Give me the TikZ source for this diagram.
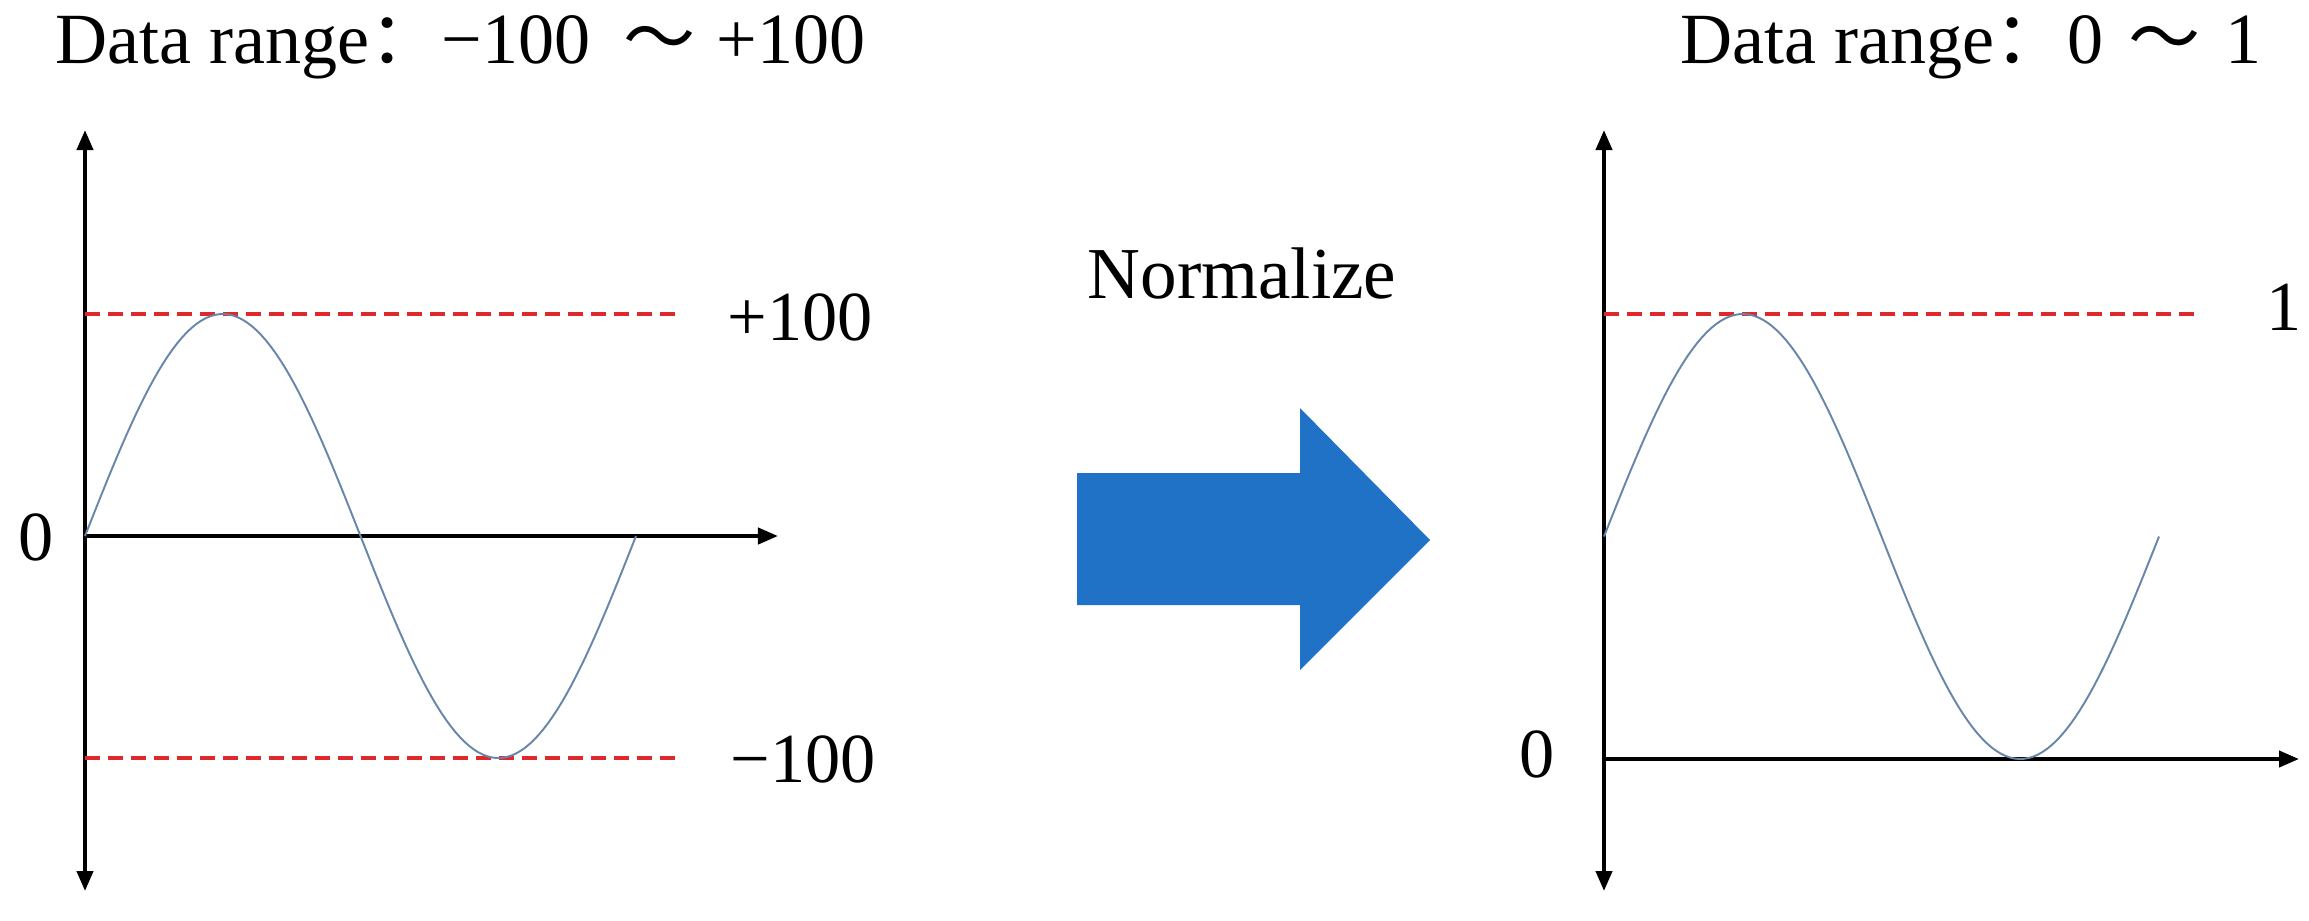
\documentclass[tikz,border=0pt]{standalone}
\usepackage{fontspec}
\setmainfont{Liberation Serif}
\newfontfamily\cjk{Noto Sans CJK SC}
\usetikzlibrary{arrows.meta}
\definecolor{wave}{RGB}{104,134,170}
\definecolor{redline}{RGB}{222,40,44}
\definecolor{bigarrow}{RGB}{31,114,198}
\tikzset{
  axis/.style={line width=1.15pt, {Triangle[length=0.2cm,width=0.16cm]}-{Triangle[length=0.2cm,width=0.16cm]}},
  haxis/.style={line width=1.15pt, -{Triangle[length=0.2cm,width=0.16cm]}},
  limit/.style={redline, line width=0.95pt, dash pattern=on 0.15cm off 0.08cm},
  curve/.style={wave, line width=0.55pt},
  lbl/.style={inner sep=0pt, anchor=base west, font=\fontsize{20}{24}\selectfont},
  ttl/.style={inner sep=0pt, anchor=base west, font=\fontsize{20.5}{24}\selectfont}
}
\begin{document}
\begin{tikzpicture}[x=0.01cm, y=-0.01cm]
\useasboundingbox (0,0) rectangle (2309,920);
% titles
\node[ttl] (tleft) at (55,63) {Data range{\cjk ：}−100\hspace{0.45em}{\cjk ～}\hspace{0.05em} +100};
\node[ttl] (tright) at (1680,63) {Data range{\cjk ：}0\hspace{0.35em}{\cjk ～}\hspace{0.1em} 1};
% left graph
\coordinate (lytop) at (85,130);
\coordinate (lybot) at (85,891);
\coordinate (lo) at (85,536);
\coordinate (lxend) at (778,536);
\coordinate (lr1a) at (85,314);
\coordinate (lr1b) at (680,314);
\coordinate (lr2a) at (85,758);
\coordinate (lr2b) at (680,758);
\draw[axis] (lybot) -- (lytop);
\draw[haxis] (lo) -- (lxend);
\draw[limit] (lr1a) -- (lr1b);
\draw[limit] (lr2a) -- (lr2b);
\draw[curve] plot[domain=0:360, samples=120] ({85+\x/360*551},{536-222*sin(\x)});
\node[lbl] (lp100) at (727,340) {+100};
\node[lbl] (lm100) at (730,782) {−100};
\node[lbl] (lzero) at (18,560) {0};
% middle arrow
\node[inner sep=0pt, anchor=base, font=\fontsize{20.8}{24}\selectfont] (norm) at (1242,298) {Normalize};
\fill[bigarrow] (1077,473) -- (1300,473) -- (1300,408) -- (1430,540) -- (1300,670) -- (1300,605) -- (1077,605) -- cycle;
% right graph
\coordinate (rytop) at (1604,130);
\coordinate (rybot) at (1604,891);
\coordinate (ro) at (1604,759);
\coordinate (rxend) at (2299,759);
\coordinate (rr1a) at (1604,314);
\coordinate (rr1b) at (2198,314);
\draw[axis] (rybot) -- (rytop);
\draw[haxis] (ro) -- (rxend);
\draw[limit] (rr1a) -- (rr1b);
\draw[curve] plot[domain=0:360, samples=120] ({1604+\x/360*555},{536.5-222.5*sin(\x)});
\node[lbl] (rone) at (2266,330) {1};
\node[lbl] (rzero) at (1519,777) {0};
\end{tikzpicture}
\end{document}
